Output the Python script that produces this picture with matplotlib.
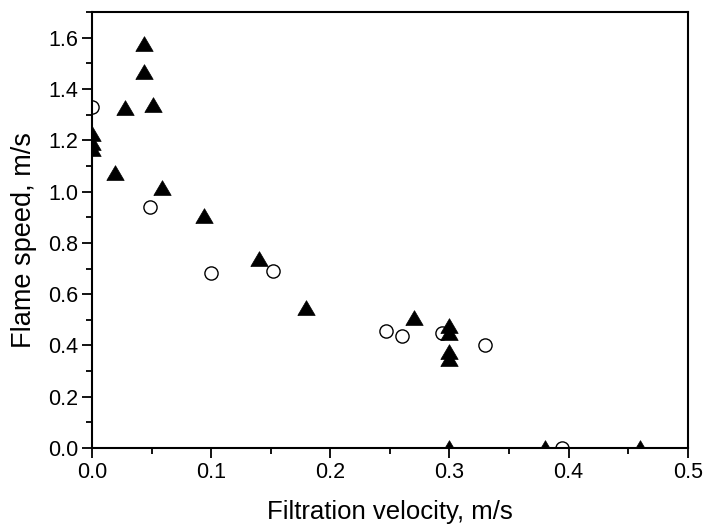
import matplotlib
matplotlib.use("Agg")
import matplotlib.pyplot as plt
from matplotlib.ticker import MultipleLocator

plt.rcParams["font.family"] = ["Liberation Sans", "DejaVu Sans"]

# filled triangles
tri_x = [0.0, 0.0, 0.0, 0.0193, 0.028, 0.044, 0.044, 0.051, 0.059, 0.094,
         0.14, 0.18, 0.27, 0.30, 0.30, 0.30, 0.30, 0.30, 0.38, 0.46]
tri_y = [1.223, 1.19, 1.165, 1.073, 1.327, 1.574, 1.466, 1.336, 1.014, 0.904,
         0.737, 0.546, 0.507, 0.474, 0.448, 0.376, 0.348, 0.0, 0.0, 0.0]

# open circles
circ_x = [0.0, 0.0487, 0.0998, 0.1518, 0.2466, 0.26, 0.2933, 0.33, 0.3946]
circ_y = [1.331, 0.940, 0.682, 0.691, 0.458, 0.435, 0.448, 0.400, 0.0]

tri_marker = [(-1, -0.8), (1, -0.8), (0, 0.9), (-1, -0.8)]

fig = plt.figure(figsize=(7.04, 5.24), dpi=100)
ax = fig.add_axes([0.1307, 0.145, 0.8463, 0.832])

ax.plot(circ_x, circ_y, linestyle="none", marker="o", markersize=9.5,
        markerfacecolor="white", markeredgecolor="black", markeredgewidth=1.0)
ax.plot(tri_x, tri_y, linestyle="none", marker=tri_marker, markersize=12.5,
        markerfacecolor="black", markeredgecolor="black", markeredgewidth=0.5)

ax.set_xlim(0, 0.5)
ax.set_ylim(0, 1.70)

ax.xaxis.set_major_locator(MultipleLocator(0.1))
ax.xaxis.set_minor_locator(MultipleLocator(0.05))
ax.yaxis.set_major_locator(MultipleLocator(0.2))
ax.yaxis.set_minor_locator(MultipleLocator(0.1))
ax.xaxis.set_major_formatter(plt.FormatStrFormatter("%.1f"))
ax.yaxis.set_major_formatter(plt.FormatStrFormatter("%.1f"))

for s in ax.spines.values():
    s.set_linewidth(1.5)

ax.tick_params(which="major", direction="out", length=7, width=1.3,
               labelsize=15.5, pad=3)
ax.tick_params(which="minor", direction="out", length=4, width=1.3)
ax.tick_params(top=False, right=False)

ax.set_xlabel("Filtration velocity, m/s", fontsize=18.5, labelpad=12)
ax.set_ylabel("Flame speed, m/s", fontsize=19.5)
ax.yaxis.set_label_coords(-0.092, 0.477)

fig.savefig("out.png", dpi=100)
